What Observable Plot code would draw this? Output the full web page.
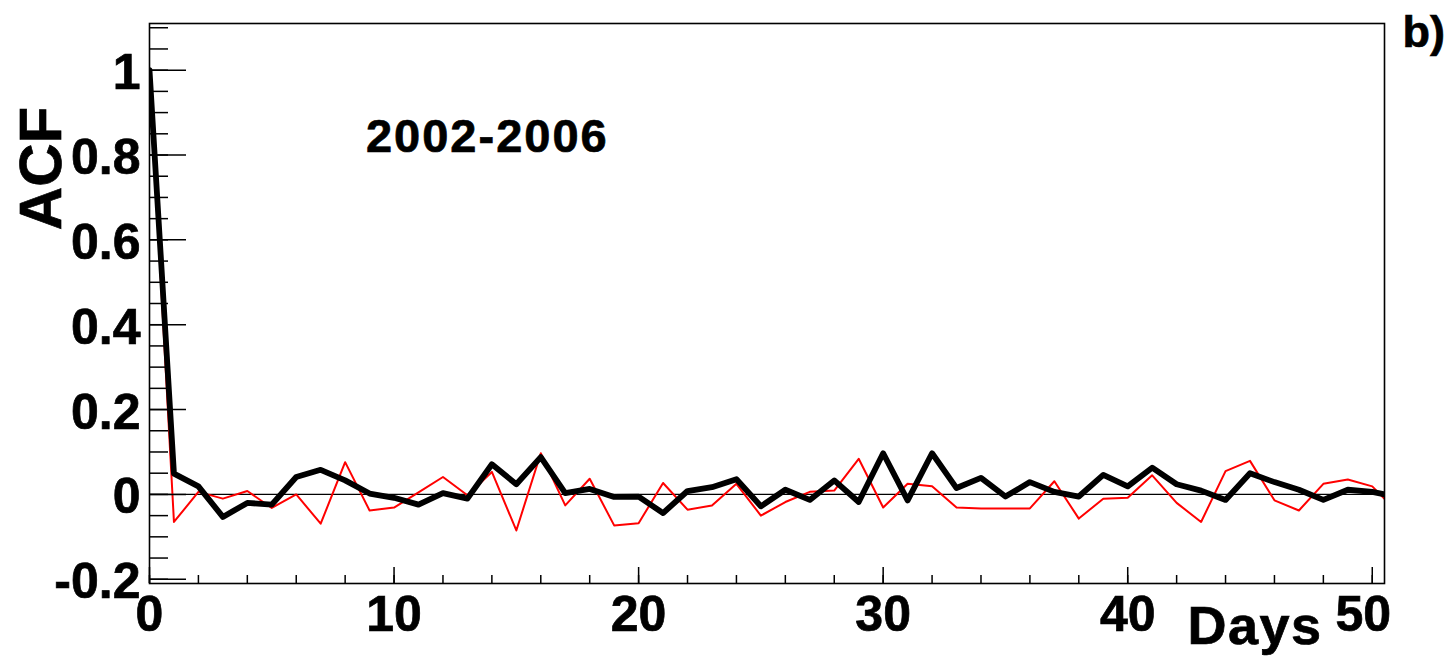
<!DOCTYPE html>
<html>
<head>
<meta charset="utf-8">
<script src="https://cdn.jsdelivr.net/npm/d3@7"></script>
<script src="https://cdn.jsdelivr.net/npm/@observablehq/plot@0.6"></script>
<style>
  html, body { margin: 0; padding: 0; background: #fff; }
  #chart { width: 1450px; height: 656px; }
  #chart svg text { stroke: #000; stroke-width: 0.7px; paint-order: stroke; }
</style>
</head>
<body>
<div id="chart"></div>
<script>
// Autocorrelation function by lag (days), 2002-2006
const lags = d3.range(0, 52);

const acfBlack = [
  1.000, 0.049, 0.019, -0.053, -0.020, -0.024, 0.041, 0.058, 0.033, 0.002,
  -0.008, -0.024, 0.003, -0.010, 0.071, 0.024, 0.088, 0.003, 0.013, -0.006,
  -0.005, -0.044, 0.008, 0.017, 0.036, -0.028, 0.011, -0.013, 0.033, -0.018,
  0.097, -0.014, 0.097, 0.015, 0.039, -0.005, 0.029, 0.006, -0.005, 0.046,
  0.019, 0.063, 0.024, 0.009, -0.013, 0.050, 0.029, 0.011, -0.013, 0.011,
  0.006, -0.006
];

const acfRed = [
  1.000, -0.065, 0.006, -0.010, 0.008, -0.032, 0.000, -0.069, 0.076, -0.038,
  -0.031, 0.005, 0.041, -0.002, 0.053, -0.085, 0.097, -0.026, 0.037, -0.073,
  -0.068, 0.027, -0.036, -0.026, 0.025, -0.050, -0.018, 0.006, 0.009, 0.084,
  -0.031, 0.025, 0.019, -0.031, -0.033, -0.033, -0.033, 0.031, -0.057, -0.010,
  -0.008, 0.045, -0.020, -0.065, 0.055, 0.079, -0.014, -0.038, 0.025, 0.035,
  0.019, -0.040
];

const xTicks = [0, 10, 20, 30, 40, 50];
const yTicks = [-0.2, 0, 0.2, 0.4, 0.6, 0.8, 1];
const xMinorTicks = d3.range(0, 51, 2);
const yMinorTicks = d3.range(-20, 111, 5).map(v => v / 100);

const periodLabel = [{lag: 8.85, acf: 0.843, text: "2002-2006"}];

const xDomain = [0, 50.5];
const yDomain = [-0.21, 1.11];

const blackData = lags.map((l, i) => ({lag: l, acf: acfBlack[i]}));
const redData = lags.map((l, i) => ({lag: l, acf: acfRed[i]}));

const fmt = d => String(+d.toFixed(1));
const font = "'Liberation Sans', Arial, Helvetica, sans-serif";

const chart = Plot.plot({
  width: 1450,
  height: 656,
  marginLeft: 149,
  marginRight: 66,
  marginTop: 23,
  marginBottom: 73,
  x: {domain: xDomain},
  y: {domain: yDomain},
  style: {fontFamily: font, fontWeight: "bold", background: "#fff", color: "#000", overflow: "visible"},
  marks: [
    // zero reference line
    Plot.ruleY([0], {stroke: "#000", strokeWidth: 1.2}),
    // series
    Plot.line(redData, {x: "lag", y: "acf", stroke: "#ff0000", strokeWidth: 2, clip: true}),
    Plot.line(blackData, {x: "lag", y: "acf", stroke: "#000", strokeWidth: 5.8, strokeLinejoin: "round", clip: true}),
    // inward ticks on the left edge
    Plot.ruleY(yMinorTicks, {x1: 0, x2: 0, insetRight: -19, stroke: "#000", strokeWidth: 1.5}),
    Plot.ruleY(yTicks, {x1: 0, x2: 0, insetRight: -37, stroke: "#000", strokeWidth: 1.5}),
    // inward ticks on the bottom edge
    Plot.ruleX(xMinorTicks, {y1: yDomain[0], y2: yDomain[0], insetBottom: 8, stroke: "#000", strokeWidth: 1.5}),
    Plot.ruleX(xTicks, {y1: yDomain[0], y2: yDomain[0], insetBottom: 16, stroke: "#000", strokeWidth: 1.5}),
    Plot.frame({stroke: "#000", strokeWidth: 1.6}),
    // tick labels
    Plot.axisY(yTicks, {tickSize: 0, tickPadding: 9, fontSize: 50, tickFormat: fmt, dy: 3, label: null}),
    Plot.axisX(xTicks.slice(0, -1), {tickSize: 0, tickPadding: 12, fontSize: 50, tickFormat: fmt, label: null}),
    Plot.axisX(xTicks.slice(-1), {tickSize: 0, tickPadding: 12, fontSize: 50, tickFormat: fmt, dx: -9, label: null}),
    // titles
    Plot.text(["ACF"], {frameAnchor: "top-left", text: d => d, rotate: -90, dx: -108, dy: 145,
      fontSize: 60, textAnchor: "middle", lineAnchor: "middle"}),
    Plot.text(["Days"], {frameAnchor: "bottom-right", text: d => d, dx: -62, dy: 43,
      fontSize: 54, textAnchor: "end", lineAnchor: "middle"}),
    Plot.text(["b)"], {frameAnchor: "top-right", text: d => d, dx: 18, dy: -8,
      fontSize: 45, textAnchor: "start", lineAnchor: "top"}),
    Plot.text(periodLabel, {x: "lag", y: "acf", text: "text", fontSize: 47,
      textAnchor: "start", lineAnchor: "middle"})
  ]
});

document.getElementById("chart").appendChild(chart);

// widen the bold annotation lettering slightly
d3.select(chart).selectAll("text").each(function () {
  const t = this.textContent;
  if (t === "2002-2006") this.style.letterSpacing = "2px";
  if (t === "Days") this.style.letterSpacing = "1.5px";
});
</script>
</body>
</html>
